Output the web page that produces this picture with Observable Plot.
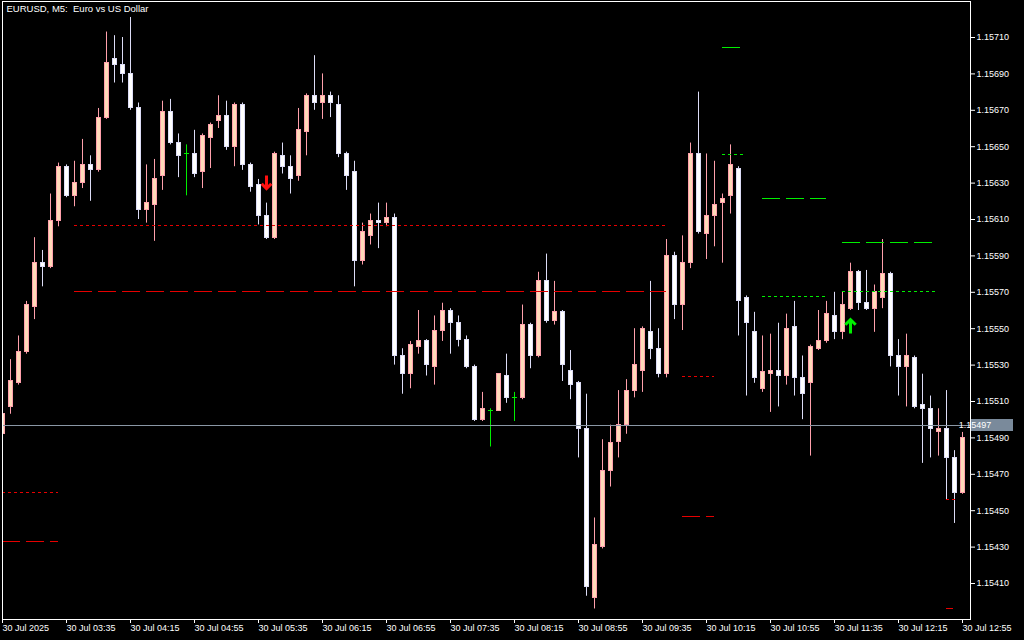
<!DOCTYPE html>
<html>
<head>
<meta charset="utf-8">
<script src="https://cdn.jsdelivr.net/npm/d3@7"></script>
<script src="https://cdn.jsdelivr.net/npm/@observablehq/plot@0.6"></script>
<style>
html, body { margin: 0; padding: 0; background: #000; overflow: hidden; }
#chart svg { display: block; }
</style>
</head>
<body>
<div id="chart"></div>
<script>
// ---------- data (EURUSD M5, 30 Jul 2025, 02:55 .. 12:55) ----------
const title = "EURUSD, M5:\u00a0 Euro vs US Dollar";

const open = [
  1.15492,1.15507,1.15520,1.15537,1.15562,1.15586,1.15584,1.15609,1.15639,1.15623,
  1.15630,1.15640,1.15637,1.15666,1.15698,1.15695,1.15690,1.15671,1.15615,1.15618,
  1.15634,1.15669,1.15652,1.15646,1.15646,1.15636,1.15655,1.15664,1.15667,1.15650,
  1.15673,1.15640,1.15629,1.15612,1.15600,1.15645,1.15639,1.15634,1.15658,1.15678,
  1.15674,1.15678,1.15673,1.15646,1.15636,1.15587,1.15601,1.15609,1.15608,1.15611,
  1.15535,1.15525,1.15540,1.15543,1.15529,1.15549,1.15560,1.15553,1.15544,1.15529,
  1.15500,1.15505,1.15505,1.15524,1.15512,1.15512,1.15552,1.15535,1.15576,1.15554,
  1.15559,1.15527,1.15520,1.15495,1.15402,1.15430,1.15472,1.15488,1.15497,1.15516,
  1.15527,1.15548,1.15539,1.15525,1.15590,1.15563,1.15586,1.15646,1.15602,1.15612,
  1.15619,1.15623,1.15638,1.15567,1.15548,1.15517,1.15525,1.15527,1.15524,1.15551,
  1.15523,1.15520,1.15539,1.15543,1.15557,1.15548,1.15561,1.15581,1.15564,1.15561,
  1.15567,1.15580,1.15535,1.15529,1.15534,1.15508,1.15506,1.15493,1.15495,1.15479,
  1.15460
];
const high = [
  1.15504,1.15533,1.15546,1.15565,1.15600,1.15593,1.15624,1.15641,1.15640,1.15642,
  1.15654,1.15645,1.15671,1.15713,1.15711,1.15710,1.15721,1.15674,1.15640,1.15643,
  1.15675,1.15676,1.15657,1.15651,1.15659,1.15657,1.15663,1.15678,1.15675,1.15674,
  1.15674,1.15641,1.15632,1.15619,1.15647,1.15652,1.15645,1.15671,1.15679,1.15700,
  1.15690,1.15680,1.15678,1.15647,1.15642,1.15608,1.15613,1.15619,1.15619,1.15613,
  1.15539,1.15543,1.15560,1.15544,1.15557,1.15564,1.15561,1.15557,1.15546,1.15530,
  1.15515,1.15506,1.15525,1.15536,1.15515,1.15563,1.15553,1.15581,1.15591,1.15576,
  1.15560,1.15538,1.15521,1.15514,1.15446,1.15489,1.15497,1.15516,1.15522,1.15550,
  1.15551,1.15576,1.15550,1.15599,1.15592,1.15601,1.15652,1.15680,1.15646,1.15642,
  1.15624,1.15651,1.15639,1.15568,1.15559,1.15546,1.15547,1.15553,1.15558,1.15565,
  1.15535,1.15541,1.15560,1.15565,1.15570,1.15570,1.15586,1.15582,1.15582,1.15574,
  1.15599,1.15581,1.15544,1.15547,1.15535,1.15525,1.15513,1.15506,1.15516,1.15483,
  1.15493
];
const low = [
  1.15491,1.15503,1.15519,1.15536,1.15555,1.15573,1.15583,1.15606,1.15622,1.15617,
  1.15627,1.15620,1.15636,1.15665,1.15685,1.15685,1.15670,1.15610,1.15608,1.15598,
  1.15626,1.15651,1.15633,1.15623,1.15633,1.15627,1.15638,1.15660,1.15648,1.15639,
  1.15637,1.15625,1.15607,1.15599,1.15599,1.15635,1.15624,1.15631,1.15645,1.15670,
  1.15665,1.15666,1.15644,1.15626,1.15573,1.15585,1.15596,1.15594,1.15606,1.15530,
  1.15514,1.15517,1.15536,1.15524,1.15519,1.15543,1.15536,1.15540,1.15528,1.15499,
  1.15499,1.15485,1.15505,1.15509,1.15499,1.15511,1.15528,1.15534,1.15553,1.15552,
  1.15521,1.15511,1.15479,1.15403,1.15396,1.15429,1.15463,1.15479,1.15492,1.15512,
  1.15515,1.15533,1.15523,1.15523,1.15555,1.15549,1.15583,1.15602,1.15588,1.15595,
  1.15586,1.15613,1.15546,1.15513,1.15520,1.15515,1.15504,1.15507,1.15519,1.15513,
  1.15500,1.15480,1.15538,1.15542,1.15544,1.15544,1.15560,1.15560,1.15560,1.15548,
  1.15561,1.15529,1.15513,1.15507,1.15506,1.15476,1.15479,1.15480,1.15456,1.15443,
  1.15459
];
const close = [
  1.15503,1.15521,1.15537,1.15563,1.15586,1.15584,1.15609,1.15639,1.15623,1.15630,
  1.15640,1.15637,1.15666,1.15696,1.15695,1.15690,1.15671,1.15615,1.15619,1.15632,
  1.15669,1.15652,1.15645,1.15646,1.15635,1.15656,1.15662,1.15667,1.15650,1.15673,
  1.15640,1.15628,1.15612,1.15600,1.15646,1.15639,1.15632,1.15659,1.15678,1.15674,
  1.15678,1.15674,1.15646,1.15634,1.15587,1.15603,1.15609,1.15608,1.15611,1.15535,
  1.15525,1.15541,1.15543,1.15530,1.15549,1.15560,1.15553,1.15544,1.15529,1.15500,
  1.15506,1.15505,1.15525,1.15512,1.15512,1.15552,1.15535,1.15576,1.15554,1.15559,
  1.15530,1.15519,1.15495,1.15408,1.15431,1.15472,1.15487,1.15497,1.15516,1.15530,
  1.15550,1.15539,1.15525,1.15590,1.15563,1.15586,1.15646,1.15603,1.15612,1.15618,
  1.15621,1.15640,1.15565,1.15553,1.15523,1.15526,1.15527,1.15524,1.15550,1.15523,
  1.15514,1.15540,1.15543,1.15558,1.15548,1.15563,1.15581,1.15564,1.15561,1.15570,
  1.15580,1.15535,1.15529,1.15535,1.15507,1.15506,1.15495,1.15495,1.15479,1.15460,
  1.15490
];

const timeTickBars = [0, 8, 16, 24, 32, 40, 48, 56, 64, 72, 80, 88, 96, 104, 112, 120];
const timeTickLabels = [
  "30 Jul 2025", "30 Jul 03:35", "30 Jul 04:15", "30 Jul 04:55", "30 Jul 05:35",
  "30 Jul 06:15", "30 Jul 06:55", "30 Jul 07:35", "30 Jul 08:15", "30 Jul 08:55",
  "30 Jul 09:35", "30 Jul 10:15", "30 Jul 10:55", "30 Jul 11:35", "30 Jul 12:15", "30 Jul 12:55"
];
const priceTicks = [
  1.15410, 1.15430, 1.15450, 1.15470, 1.15490, 1.15510, 1.15530, 1.15550,
  1.15570, 1.15590, 1.15610, 1.15630, 1.15650, 1.15670, 1.15690, 1.15710
];
const bidPrice = 1.15497;

// indicator level segments
const levelPrice = [1.156067, 1.155704, 1.154600, 1.154331, 1.155237, 1.154468, 1.157045, 1.156457,
                    1.156215, 1.155677, 1.155974, 1.155704, 1.154562, 1.153963];
const levelFrom  = [9, 9, 0, 0, 85, 85, 90, 90, 95, 95, 105, 105, 118, 118];
const levelTo    = [83, 83, 7, 7, 89, 89, 92.2, 92.6, 103, 103, 116.3, 116.6, 119.1, 118.9];
const levelSide  = ["sell","sell","sell","sell","sell","sell","buy","buy","buy","buy","buy","buy","sell","sell"];
const levelStyle = ["dot","dash","dot","dash","dot","dash","solid","dot","dash","dot","dash","dot","dot","solid"];

// signal arrows
const arrowBar   = [33, 106];
const arrowPrice = [1.15627, 1.15555];
const arrowDir   = ["down", "up"];

// ---------- build tables ----------
const BULL_FILL = "#ffdab9", BULL_LINE = "#ffa0ac";
const BEAR_FILL = "#ffffff", BEAR_LINE = "#dcdcf6";
const DOJI_LINE = "#00ee00";
const RED = "#e60000", GREEN = "#00ee00";
const lineColor = {bull: BULL_LINE, bear: BEAR_LINE, doji: DOJI_LINE};
const fillColor = {bull: BULL_FILL, bear: BEAR_FILL};

const candles = open.map((o, i) => ({i, o, h: high[i], l: low[i], c: close[i],
  kind: close[i] > o ? "bull" : close[i] < o ? "bear" : "doji"}));
const bodies = candles.filter(d => d.kind !== "doji");
const doji = candles.filter(d => d.kind === "doji");
const levels = levelPrice.map((p, k) => ({p, x1: levelFrom[k], x2: levelTo[k], side: levelSide[k], style: levelStyle[k]}));
const arrows = arrowBar.map((b, k) => ({x: b, y: arrowPrice[k], dir: arrowDir[k]}));
const dashes = {dot: "3,3", dash: "18,6", solid: null};

// layout: Plot shifts strokes by +0.5px, so bar centres sit on whole pixels
const W = 1024, H = 640;
const mL = 2, mR = 54, mT = 1, mB = 21;
const pxPerUnit = 182000;              // vertical pixels per 1.0 of price
const yTop = 1.15710 + (37 - mT) / pxPerUnit;
const yBot = yTop - (H - mT - mB) / pxPerUnit;

const levelMarks = [];
for (const side of ["sell", "buy"]) {
  for (const st of ["dot", "dash", "solid"]) {
    const data = levels.filter(d => d.side === side && d.style === st);
    if (!data.length) continue;
    levelMarks.push(Plot.ruleY(data, {y: "p", x1: "x1", x2: "x2",
      stroke: side === "sell" ? RED : GREEN, strokeWidth: 1,
      strokeDasharray: dashes[st] || undefined, clip: true, shapeRendering: "crispEdges"}));
  }
}

const chart = Plot.plot({
  width: W, height: H,
  marginLeft: mL, marginRight: mR, marginTop: mT, marginBottom: mB,
  style: {background: "#000", color: "#fff", fontFamily: "'Liberation Sans', Arial, sans-serif", fontSize: "9px"},
  x: {type: "linear", domain: [0, 121], axis: null},
  y: {type: "linear", domain: [yBot, yTop], axis: null},
  color: {type: "identity"},
  marks: [
    // wicks (all candles, doji in lime)
    Plot.ruleX(candles, {x: "i", y1: "l", y2: "h", stroke: d => lineColor[d.kind], strokeWidth: 1, clip: true}),
    // bodies
    Plot.rect(bodies, {x1: d => d.i - 0.25, x2: d => d.i + 0.25, y1: "o", y2: "c",
      fill: d => fillColor[d.kind], stroke: d => lineColor[d.kind], clip: true, shapeRendering: "crispEdges"}),
    // doji open=close tick
    Plot.ruleY(doji, {y: "o", x1: d => d.i - 0.3125, x2: d => d.i + 0.3125, stroke: DOJI_LINE, clip: true,
      shapeRendering: "crispEdges"}),
    // indicator levels
    ...levelMarks,
    // bid line
    Plot.ruleY([bidPrice], {stroke: "#8a97a5", shapeRendering: "crispEdges"}),
    // arrows
    Plot.vector(arrows.filter(d => d.dir === "down"), {x: "x", y: "y", anchor: "end", rotate: 180, length: 13, r: 6.5,
      stroke: "#ff1010", strokeWidth: 3, strokeLinecap: "butt", strokeLinejoin: "miter"}),
    Plot.vector(arrows.filter(d => d.dir === "up"), {x: "x", y: "y", anchor: "end", rotate: 0, length: 14, r: 6.5,
      stroke: "#00ee00", strokeWidth: 3, strokeLinecap: "butt", strokeLinejoin: "miter"}),
    // frame
    Plot.frame({stroke: "#ffffff", shapeRendering: "crispEdges"}),
    // title
    Plot.text([title], {frameAnchor: "top-left", dx: 4, dy: 4, lineAnchor: "top", textAnchor: "start",
      fill: "#fff", fontSize: 9.5}),
    // axes
    Plot.axisY(priceTicks, {anchor: "right", tickSize: 4, tickPadding: 2, label: null,
      tickFormat: d3.format(".5f"), fontSize: 9, fill: "#fff", stroke: "#fff"}),
    Plot.axisX(timeTickBars, {anchor: "bottom", tickSize: 4, tickPadding: 1, label: null,
      tickFormat: d => timeTickLabels[timeTickBars.indexOf(d)], textAnchor: "start", dx: 0,
      fontSize: 9, fill: "#fff", stroke: "#fff"})
  ]
});

document.getElementById("chart").appendChild(chart);

// bid price label box on the price axis
const ys = chart.scale("y"), xs = chart.scale("x");
const by = ys.apply(bidPrice);
const bx = xs.apply(121) + 1;
const g = d3.select(chart).append("g");
g.append("rect").attr("x", bx).attr("y", Math.round(by) - 6).attr("width", 42).attr("height", 12)
  .attr("fill", "#7a8a9b");
g.append("text").attr("x", bx + 4).attr("y", by + 0.5).attr("dy", "0.35em")
  .attr("fill", "#ffffff").attr("font-size", 9)
  .text(d3.format(".5f")(bidPrice));
</script>
</body>
</html>
